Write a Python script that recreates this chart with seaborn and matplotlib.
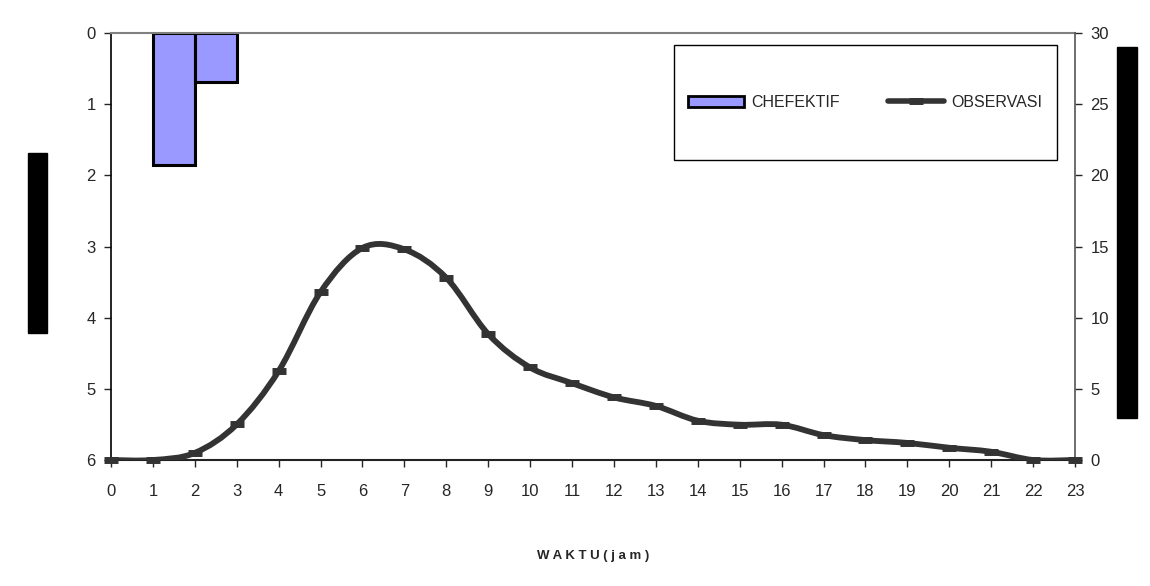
import numpy as np
import matplotlib
matplotlib.use("Agg")
import matplotlib.pyplot as plt
from matplotlib.path import Path
from matplotlib.patches import PathPatch, Rectangle
from matplotlib.lines import Line2D
import seaborn as sns
import pandas as pd

hours = list(range(24))
# effective rain (left axis, reversed), per hour
chefektif = [0, 1.85, 0.69, 0, 0, 0, 0, 0, 0, 0, 0, 0,
             0, 0, 0, 0, 0, 0, 0, 0, 0, 0, 0, 0]
# observed discharge (right axis)
observasi = [0, 0, 0.5, 2.5, 6.25, 11.8, 14.9, 14.8, 12.8, 8.85, 6.5, 5.4,
             4.4, 3.8, 2.76, 2.48, 2.48, 1.75, 1.4, 1.2, 0.86, 0.58, 0, 0]

sns.set_style("white")
plt.rcParams['font.family'] = ['Liberation Sans', 'DejaVu Sans']

fig = plt.figure(figsize=(11.5, 5.86), dpi=100)
ax = fig.add_axes([0.0965, 0.215, 0.8383, 0.7287])
ax2 = ax.twinx()

bar_df = pd.DataFrame({"jam": hours, "ch": chefektif})
bar_df = bar_df[bar_df["ch"] > 0]
ax.bar(bar_df["jam"], bar_df["ch"], width=1, align="edge",
       color="#9999ff", edgecolor="black", linewidth=2.2, zorder=2)
ax.set_ylim(6, 0)
ax.set_xlim(0, 23)
ax.set_yticks(range(0, 7))
ax.set_xticks(hours)

# smooth line like the spreadsheet curve (Catmull-Rom -> Bezier)
x = np.array(hours, dtype=float)
y = np.array(observasi, dtype=float)
verts = [(x[0], y[0])]
codes = [Path.MOVETO]
for i in range(len(x) - 1):
    p0 = (x[max(i - 1, 0)], y[max(i - 1, 0)])
    p1 = (x[i], y[i])
    p2 = (x[i + 1], y[i + 1])
    p3 = (x[min(i + 2, len(x) - 1)], y[min(i + 2, len(x) - 1)])
    c1 = (p1[0] + (p2[0] - p0[0]) / 6, p1[1] + (p2[1] - p0[1]) / 6)
    c2 = (p2[0] - (p3[0] - p1[0]) / 6, p2[1] - (p3[1] - p1[1]) / 6)
    verts += [c1, c2, p2]
    codes += [Path.CURVE4] * 3
ax2.add_patch(PathPatch(Path(verts, codes), facecolor="none",
                        edgecolor="#333333", linewidth=4.2, capstyle="round",
                        zorder=3))
sns.scatterplot(x=hours, y=observasi, ax=ax2, marker="_", s=110,
                linewidth=5, color="#333333", zorder=4, legend=False,
                clip_on=False)
ax2.set_ylim(0, 30)
ax2.set_yticks(range(0, 31, 5))

for a in (ax, ax2):
    for s in a.spines.values():
        s.set_visible(False)
ax.spines["left"].set_visible(True)
ax.spines["left"].set_color("black")
ax.spines["left"].set_linewidth(1.2)
ax.spines["top"].set_visible(True)
ax.spines["top"].set_color("#808080")
ax.spines["top"].set_linewidth(1.5)
ax2.spines["right"].set_visible(True)
ax2.spines["right"].set_color("#555555")
ax2.spines["right"].set_linewidth(1.2)
ax2.spines["bottom"].set_visible(True)
ax2.spines["bottom"].set_color("#222222")
ax2.spines["bottom"].set_linewidth(1.5)

ax.tick_params(axis="y", left=True, direction="out", length=5, width=1,
               labelsize=12, pad=6)
ax.tick_params(axis="x", bottom=True, direction="out", length=5, width=1,
               labelsize=12, pad=12)
ax2.tick_params(axis="y", right=True, direction="out", length=5, width=1,
                labelsize=12, pad=6)
ax.set_xlabel("W A K T U ( j a m )", fontsize=9.5, fontweight="bold", labelpad=37)

# legend box
ax2.add_patch(Rectangle((0.584, 0.7026), 0.397, 0.269, transform=ax2.transAxes,
                        facecolor="white", edgecolor="black", linewidth=1,
                        zorder=5))
handles = [Rectangle((0, 0), 1, 1, facecolor="#9999ff", edgecolor="black", linewidth=2),
           Line2D([0], [0], color="#333333", linewidth=4, marker="_",
                  markersize=10, markeredgewidth=5)]
leg = ax2.legend(handles, ["CHEFEKTIF", "OBSERVASI"], ncol=2,
                 loc="center", bbox_to_anchor=(0.584 + 0.397 / 2, 0.7026 + 0.269 / 2),
                 frameon=False, fontsize=11.5,
                 handlelength=3.5, handleheight=0.7, handletextpad=0.45,
                 columnspacing=3.0)
leg.set_zorder(6)

# masked axis titles
fig.patches.append(Rectangle((28 / 1150, 1 - 333 / 586), 19 / 1150, 180 / 586,
                             transform=fig.transFigure, color="black"))
fig.patches.append(Rectangle((1117 / 1150, 1 - 418 / 586), 20 / 1150, 371 / 586,
                             transform=fig.transFigure, color="black"))

fig.savefig("out.png", dpi=100)
